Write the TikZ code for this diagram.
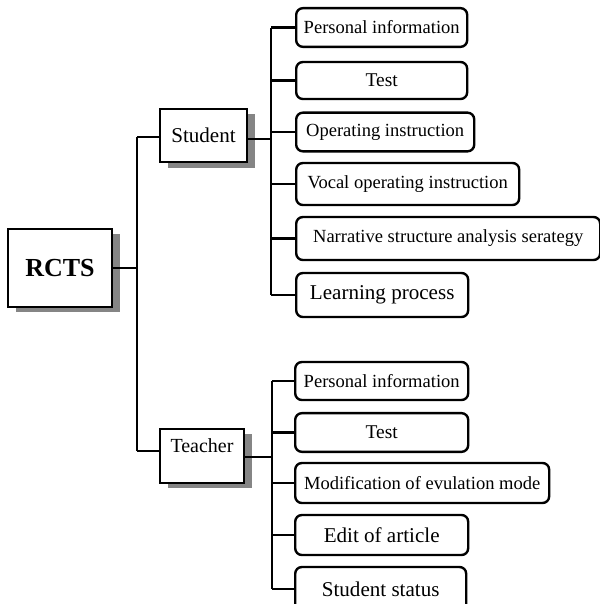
\documentclass[tikz,border=0pt]{standalone}
\usepackage{fontspec}
\setmainfont{Liberation Serif}
\usetikzlibrary{shadows,calc}
\tikzset{
  conn/.style={line width=1.8pt},
  leaf/.style={draw, line width=1.8pt, rounded corners=5pt, fill=white, inner sep=0pt, anchor=west, minimum height=29pt},
  mainbox/.style={draw, line width=1.8pt, fill=white, inner sep=0pt,
    drop shadow={shadow xshift=6pt, shadow yshift=-4pt, fill=black!48, opacity=1}},
  fsmall/.style={font=\fontsize{13.9}{16}\selectfont},
  fmid/.style={font=\fontsize{14.6}{17}\selectfont},
  fbig/.style={font=\fontsize{15.8}{18}\selectfont},
}
\begin{document}
\begin{tikzpicture}[x=0.75pt,y=-0.75pt]
\useasboundingbox (0,0) rectangle (600,604);
\clip (0,0) rectangle (600,604);
% root
\node[mainbox, minimum width=78pt, minimum height=58.5pt, font=\fontsize{19.5}{22}\selectfont\bfseries] (rcts) at (60,268) {RCTS};
\node[mainbox, minimum width=65pt, minimum height=40pt, fbig] (student) at (203.5,135.5) {Student};
\node[mainbox, minimum width=63pt, minimum height=40.5pt, font=\fontsize{15}{17}\selectfont, text height=17.25pt, text depth=23.25pt] (teacher) at (202,456) {Teacher};
% main spine
\coordinate (m1) at (137,137);
\coordinate (m2) at (137,451);
\coordinate (mr) at (137,268);
\draw[conn] (m1) -- (m2);
\draw[conn] (rcts.east |- mr) -- (mr);
\draw[conn] (m1) -- (m1 -| student.west);
\draw[conn] (m2) -- (m2 -| teacher.west);
% student children
\node[leaf, minimum width=128.25pt, fsmall] (s1) at (295,27.5) {Personal information};
\node[leaf, minimum width=128.25pt, minimum height=27.75pt, fmid] (s2) at (295,80.5) {Test};
\node[leaf, minimum width=133.5pt, fsmall] (s3) at (295,132) {Operating instruction};
\node[leaf, minimum width=167.25pt, minimum height=31.5pt, fsmall] (s4) at (295,184) {Vocal operating instruction};
\node[leaf, minimum width=228pt, minimum height=32.25pt, fsmall] (s5) at (295,238.5) {Narrative structure analysis serategy};
\node[leaf, minimum width=129pt, minimum height=33pt, fbig] (s6) at (295,295) {Learning process};
\coordinate (sx) at (271,0);
\coordinate (sr) at (0,139);
\draw[conn] (s1.west -| sx) -- (s6.west -| sx);
\draw[conn] (student.east |- sr) -- (sx |- sr);
\foreach \n in {s1,s2,s3,s4,s5,s6} \draw[conn] (\n.west) -- (\n.west -| sx);
% teacher children
\node[leaf, minimum width=129.75pt, minimum height=28.5pt, fsmall] (t1) at (294,381) {Personal information};
\node[leaf, minimum width=129.75pt, fmid] (t2) at (294,432.5) {Test};
\node[leaf, minimum width=190.5pt, minimum height=30pt, fsmall] (t3) at (294,483) {Modification of evulation mode};
\node[leaf, minimum width=129.75pt, minimum height=30pt, fbig] (t4) at (294,535) {Edit of article};
\node[leaf, minimum width=128.25pt, minimum height=33pt, fbig] (t5) at (294,589) {Student status};
\coordinate (tx) at (272,0);
\coordinate (tr) at (0,457);
\draw[conn] (t1.west -| tx) -- (t5.west -| tx);
\draw[conn] (teacher.east |- tr) -- (tx |- tr);
\foreach \n in {t1,t2,t3,t4,t5} \draw[conn] (\n.west) -- (\n.west -| tx);
\end{tikzpicture}
\end{document}
